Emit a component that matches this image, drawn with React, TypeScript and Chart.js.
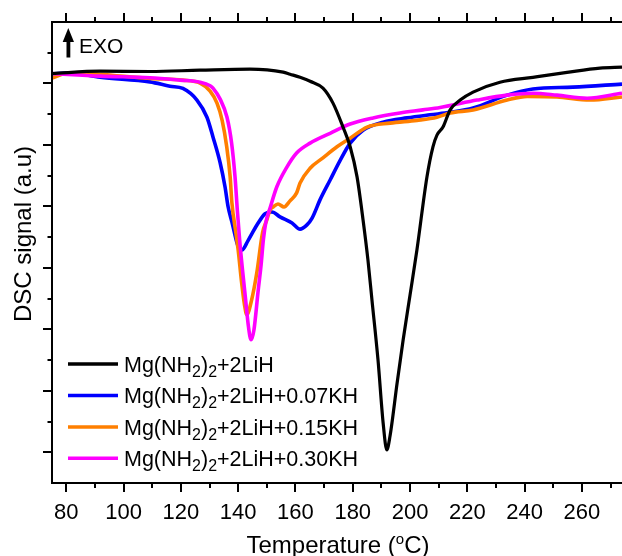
import React, { useEffect, useRef } from "react";
import { Chart, registerables } from "chart.js";

Chart.register(...registerables);

// ---- data ----
const seriesLabels = [
  "Mg(NH₂)₂+2LiH",
  "Mg(NH₂)₂+2LiH+0.07KH",
  "Mg(NH₂)₂+2LiH+0.15KH",
  "Mg(NH₂)₂+2LiH+0.30KH",
];
const seriesColors = ["#000000", "#0000FF", "#FF7F00", "#FF00FF"];

const blackT = [75, 91.8, 109.2, 126.7, 144.1, 155.7, 158.1, 161.6, 165.1, 169.6, 173.1, 176.6, 179.1, 181.5, 183.6, 185.3, 186.7, 188.8, 190.6, 191.9, 193.0, 195.5, 197.6, 200.0, 202.4, 205.9, 208.0, 209.4, 211.5, 214.0, 217.5, 222.0, 231.4, 242.9, 254.8, 266.3, 274];
const blackS = [0.162, 0.2, 0.195, 0.216, 0.232, 0.184, 0.151, 0.102, 0.037, -0.076, -0.32, -0.71, -1.03, -1.52, -2.22, -2.87, -3.52, -4.49, -5.52, -5.96, -5.74, -4.87, -4.17, -3.44, -2.71, -1.52, -1.03, -0.84, -0.71, -0.43, -0.27, -0.14, 0.02, 0.1, 0.18, 0.25, 0.265];

const blueT = [75, 81.3, 91.8, 109.2, 116.2, 120.7, 125.6, 129.1, 131.2, 133.7, 135.4, 136.5, 137.8, 139.9, 141.3, 143.4, 146.6, 149.4, 151.8, 154.6, 158.8, 161.6, 164.0, 165.8, 168.6, 172.1, 175.6, 179.1, 183.6, 190.6, 199.0, 207.0, 214.0, 222.0, 233.9, 242.9, 256.9, 274];
const blueS = [0.151, 0.175, 0.102, 0.026, -0.044, -0.081, -0.27, -0.55, -0.87, -1.29, -1.68, -2.01, -2.25, -2.64, -2.71, -2.56, -2.3, -2.12, -2.09, -2.17, -2.27, -2.37, -2.3, -2.19, -1.89, -1.57, -1.25, -0.97, -0.76, -0.63, -0.56, -0.51, -0.47, -0.4, -0.19, -0.09, -0.06, -0.01];

const orangeT = [75, 78.5, 83, 91.8, 109.2, 120.7, 126.7, 130.2, 132.6, 134.4, 136.0, 137.2, 137.8, 139.2, 140.0, 141.2, 142.2, 143.0, 144.7, 146.5, 148.5, 150.0, 151.1, 152.2, 153.9, 156.0, 158.1, 160.4, 161.6, 165.1, 169.6, 174.5, 179.1, 185.0, 193.0, 202.4, 209.4, 214.0, 222.0, 233.9, 240.9, 251.3, 262.8, 274];
const orangeS = [0.086, 0.151, 0.175, 0.151, 0.081, 0.054, 0.005, -0.125, -0.32, -0.6, -1.03, -1.52, -1.94, -2.43, -2.71, -3.24, -3.6, -3.76, -3.52, -3.08, -2.43, -2.22, -2.06, -2.01, -1.96, -2.01, -1.91, -1.78, -1.62, -1.38, -1.21, -1.03, -0.89, -0.71, -0.645, -0.6, -0.55, -0.48, -0.43, -0.27, -0.21, -0.22, -0.27, -0.22];

const magentaT = [75, 91.8, 109.2, 119.7, 126.7, 130.2, 131.2, 133.7, 136.1, 137.7, 138.9, 139.7, 140.5, 141.5, 142.6, 143.6, 144.5, 145.5, 147.0, 148.0, 148.8, 149.7, 151.1, 153.5, 157.0, 160.4, 165.1, 172.1, 179.1, 187.1, 196.5, 204.5, 210.5, 223.4, 233.9, 242.9, 251.3, 261.8, 274];
const magentaS = [0.162, 0.119, 0.094, 0.054, 0.021, -0.036, -0.076, -0.255, -0.55, -0.97, -1.52, -2.06, -2.54, -3.03, -3.52, -3.96, -4.17, -4.01, -3.36, -2.95, -2.54, -2.25, -2.03, -1.68, -1.36, -1.13, -0.97, -0.81, -0.66, -0.56, -0.48, -0.43, -0.39, -0.27, -0.19, -0.16, -0.19, -0.24, -0.16];

const xMajorTicks = [80, 100, 120, 140, 160, 180, 200, 220, 240, 260];
const xMinorTicks = [90, 110, 130, 150, 170, 190, 210, 230, 250, 270];
const yMajorTicks = [0, -1, -2, -3, -4, -5, -6];
const yMinorTicks = [0.5, -0.5, -1.5, -2.5, -3.5, -4.5, -5.5];

const xTitle = "Temperature (";
const xTitleSup = "o";
const xTitleEnd = "C)";
const yTitle = "DSC signal (a.u)";
const exoLabel = "EXO";

const FONT = '"Liberation Sans", Arial, sans-serif';

function toPoints(t: number[], s: number[]) {
  return t.map((x, i) => ({ x, y: s[i] }));
}

function drawSubText(ctx: CanvasRenderingContext2D, text: string, x: number, y: number, size: number, subSize: number) {
  let cx = x;
  for (const ch of text) {
    if (ch === "₂") {
      ctx.font = `${subSize}px ${FONT}`;
      ctx.fillText("2", cx, y + 5);
      cx += ctx.measureText("2").width;
    } else {
      ctx.font = `${size}px ${FONT}`;
      ctx.fillText(ch, cx, y);
      cx += ctx.measureText(ch).width;
    }
  }
}

const decorPlugin = {
  id: "decor",
  afterDraw(chart: any) {
    const { ctx, chartArea: a, scales } = chart;
    const xs = scales.x;
    const ys = scales.y;
    ctx.save();
    ctx.strokeStyle = "#000";
    ctx.fillStyle = "#000";
    ctx.lineWidth = 2;
    // frame (left, top, bottom)
    ctx.beginPath();
    ctx.moveTo(a.right + 2, a.top);
    ctx.lineTo(a.left, a.top);
    ctx.lineTo(a.left, a.bottom);
    ctx.lineTo(a.right + 2, a.bottom);
    ctx.stroke();

    // x ticks
    const xt = (v: number, len: number) => {
      const p = Math.round(xs.getPixelForValue(v));
      ctx.beginPath();
      ctx.moveTo(p, a.top);
      ctx.lineTo(p, a.top - len);
      ctx.moveTo(p, a.bottom);
      ctx.lineTo(p, a.bottom + len);
      ctx.stroke();
    };
    xMajorTicks.forEach((v) => xt(v, 9));
    xMinorTicks.forEach((v) => xt(v, 5));

    // y ticks
    const yt = (v: number, len: number) => {
      const p = Math.round(ys.getPixelForValue(v));
      ctx.beginPath();
      ctx.moveTo(a.left, p);
      ctx.lineTo(a.left - len, p);
      ctx.stroke();
    };
    yMajorTicks.forEach((v) => yt(v, 9));
    yMinorTicks.forEach((v) => yt(v, 4.5));

    // x tick labels
    ctx.font = `22px ${FONT}`;
    ctx.textAlign = "center";
    ctx.textBaseline = "alphabetic";
    xMajorTicks.forEach((v) => {
      ctx.fillText(String(v), xs.getPixelForValue(v), a.bottom + 35.5);
    });

    // x title with superscript
    const mainSize = 24;
    const supSize = 15;
    ctx.textAlign = "left";
    ctx.font = `${mainSize}px ${FONT}`;
    const w1 = ctx.measureText(xTitle).width;
    const w3 = ctx.measureText(xTitleEnd).width;
    ctx.font = `${supSize}px ${FONT}`;
    const w2 = ctx.measureText(xTitleSup).width;
    const total = w1 + w2 + w3;
    const cx = (a.left + a.right) / 2 + 1;
    let tx = cx - total / 2;
    const tb = a.bottom + 69.5;
    ctx.font = `${mainSize}px ${FONT}`;
    ctx.fillText(xTitle, tx, tb);
    tx += w1;
    ctx.font = `${supSize}px ${FONT}`;
    ctx.fillText(xTitleSup, tx, tb - 9);
    tx += w2;
    ctx.font = `${mainSize}px ${FONT}`;
    ctx.fillText(xTitleEnd, tx, tb);

    // y title
    ctx.save();
    ctx.translate(30.7, 234);
    ctx.rotate(-Math.PI / 2);
    ctx.textAlign = "center";
    ctx.font = `24px ${FONT}`;
    ctx.fillText(yTitle, 0, 0);
    ctx.restore();

    // EXO arrow
    ctx.beginPath();
    ctx.moveTo(68.3, 28);
    ctx.lineTo(74, 42);
    ctx.lineTo(62.7, 42);
    ctx.closePath();
    ctx.fill();
    ctx.fillRect(66.5, 41, 3.8, 16.5);
    ctx.textAlign = "left";
    ctx.font = `21px ${FONT}`;
    ctx.fillText(exoLabel, 79, 52.7);

    // legend
    const rowY = [364, 395.5, 427, 458.3];
    const order = [0, 1, 2, 3];
    order.forEach((di, i) => {
      const y = rowY[i];
      ctx.strokeStyle = seriesColors[di];
      ctx.lineWidth = 3.5;
      ctx.beginPath();
      ctx.moveTo(68, y);
      ctx.lineTo(118, y);
      ctx.stroke();
      ctx.fillStyle = "#000";
      ctx.textAlign = "left";
      drawSubText(ctx, seriesLabels[di], 124, y + 7.8, 21.5, 16);
    });
    ctx.restore();
  },
};

export default function App() {
  const ref = useRef<HTMLCanvasElement | null>(null);
  useEffect(() => {
    if (!ref.current) return;
    const sets = [
      [blackT, blackS],
      [blueT, blueS],
      [orangeT, orangeS],
      [magentaT, magentaS],
    ];
    const orders = [0, 3, 2, 1];
    const chart = new Chart(ref.current, {
      type: "line",
      data: {
        datasets: sets.map(([t, s], i) => ({
          label: seriesLabels[i],
          data: toPoints(t as number[], s as number[]),
          borderColor: seriesColors[i],
          backgroundColor: seriesColors[i],
          borderWidth: i === 0 ? 3.2 : 3.6,
          pointRadius: 0,
          fill: false,
          cubicInterpolationMode: "monotone",
          order: orders[i],
        })),
      },
      options: {
        animation: false,
        responsive: false,
        events: [],
        layout: { padding: { left: 52, top: 22, right: 0, bottom: 73 } },
        plugins: { legend: { display: false }, tooltip: { enabled: false } },
        scales: {
          x: { type: "linear", min: 75, max: 274, display: false },
          y: { type: "linear", min: -6.5, max: 1, display: false },
        },
      },
      plugins: [decorPlugin],
    } as any);
    return () => chart.destroy();
  }, []);
  return (
    <div style={{ position: "absolute", left: 0, top: 0, width: 622, height: 556, background: "#fff" }}>
      <canvas ref={ref} width={622} height={556} style={{ display: "block" }} />
    </div>
  );
}
